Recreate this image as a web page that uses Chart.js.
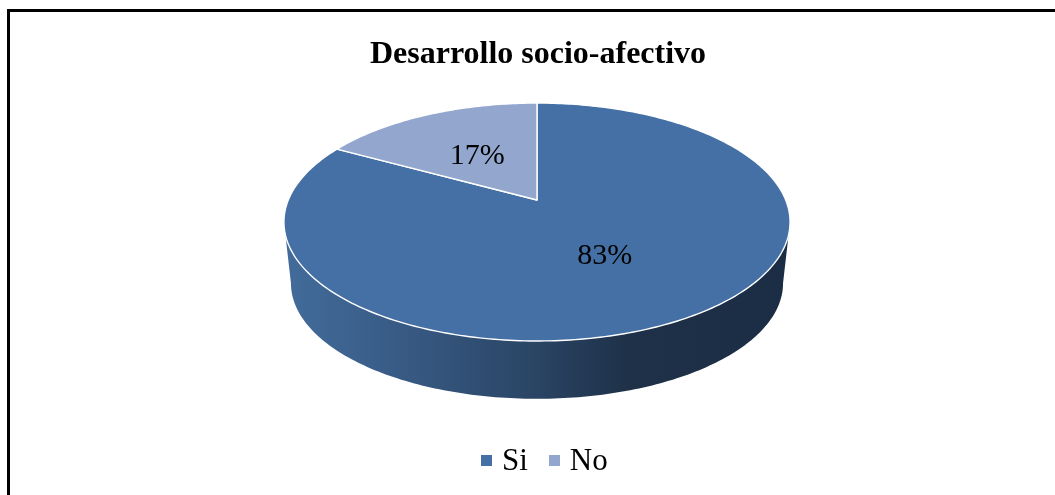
<!DOCTYPE html>
<html>
<head>
<meta charset="utf-8">
<title>Desarrollo socio-afectivo</title>
<script src="https://cdn.jsdelivr.net/npm/chart.js@4/dist/chart.umd.min.js"></script>
<style>
    html, body { margin: 0; padding: 0; background: #fff; overflow: hidden; }
    #wrap { position: relative; width: 1055px; height: 495px; }
    #frame { position: absolute; left: 7px; top: 9px; right: 0; bottom: 0; border-top: 3px solid #000; border-left: 3px solid #000; }
    canvas { position: absolute; left: 0; top: 0; }
    #legend { position: absolute; left: 481px; top: 442px; display: flex; align-items: center; font: 31px "Liberation Serif", "Times New Roman", serif; line-height: 36px; color: #000; }
    #legend .box { width: 11px; height: 11px; margin-right: 10px; }
    #legend .name { margin-right: 21px; }
</style>
</head>
<body>
<div id="wrap">
    <div id="frame"></div>
    <canvas id="chart" width="1055" height="495"></canvas>
    <div id="legend"></div>
</div>
<script>
const categories = ['Si', 'No'];
const values = [83, 17];
const sliceColors = ['#4570a6', '#93a7ce'];

const FONT = '"Liberation Serif", "Times New Roman", serif';

// tilted pie: the disc is seen in perspective, so the centre sits above the middle of the ellipse
const TILT = 0.185;
const TOP_FACE = { x: 537, y: 200, sx: 248.7, sy: 114.9 };
const BOTTOM_FACE = { x: 537, y: 262, sx: 241.8, sy: 111.5 };

function project(face, angle, r = 1) {
    const u = Math.cos(angle) * r;
    const v = Math.sin(angle) * r;
    const d = 1 - TILT * v;
    return [face.x + face.sx * u / d, face.y + face.sy * v / d];
}

function tracePoints(ctx, face, from, to) {
    const steps = Math.max(2, Math.ceil(Math.abs(to - from) * 60));
    for (let i = 0; i <= steps; i++) {
        const p = project(face, from + (to - from) * i / steps);
        ctx.lineTo(p[0], p[1]);
    }
}

const tiltedPie = {
    id: 'tiltedPie',
    beforeDatasetDraw(chart) {
        const ctx = chart.ctx;
        const arcs = chart.getDatasetMeta(0).data;

        // side wall, front half of the rim only
        const leftX = TOP_FACE.x - TOP_FACE.sx / Math.sqrt(1 - TILT * TILT);
        const rightX = TOP_FACE.x + TOP_FACE.sx / Math.sqrt(1 - TILT * TILT);
        const wall = ctx.createLinearGradient(leftX, 0, rightX, 0);
        wall.addColorStop(0, '#436c9b');
        wall.addColorStop(0.2, '#395d88');
        wall.addColorStop(0.5, '#2a4464');
        wall.addColorStop(0.68, '#1e3148');
        wall.addColorStop(1, '#1b2d44');

        const edge = Math.asin(TILT);
        ctx.save();
        ctx.beginPath();
        tracePoints(ctx, TOP_FACE, edge, Math.PI - edge);
        tracePoints(ctx, BOTTOM_FACE, Math.PI - edge, edge);
        ctx.closePath();
        ctx.fillStyle = wall;
        ctx.fill();

        // top face
        arcs.forEach((arc, i) => {
            ctx.beginPath();
            ctx.moveTo(TOP_FACE.x, TOP_FACE.y);
            tracePoints(ctx, TOP_FACE, arc.startAngle, arc.endAngle);
            ctx.closePath();
            ctx.fillStyle = sliceColors[i];
            ctx.fill();
            ctx.strokeStyle = '#fff';
            ctx.lineWidth = 1.4;
            ctx.lineJoin = 'round';
            ctx.stroke();
        });

        // value labels
        ctx.fillStyle = '#000';
        ctx.font = '30px ' + FONT;
        ctx.textAlign = 'center';
        ctx.textBaseline = 'middle';
        arcs.forEach((arc, i) => {
            const p = project(TOP_FACE, (arc.startAngle + arc.endAngle) / 2, 0.5);
            ctx.fillText(values[i] + '%', p[0] - 1, p[1] + 2);
        });
        ctx.restore();
        return false;
    },
};

new Chart(document.getElementById('chart'), {
    type: 'pie',
    data: {
        labels: categories,
        datasets: [{
            data: values,
            backgroundColor: sliceColors,
            borderWidth: 0,
        }],
    },
    plugins: [tiltedPie],
    options: {
        responsive: false,
        animation: false,
        layout: { padding: { left: 21 } },
        plugins: {
            tooltip: { enabled: false },
            legend: { display: false },
            title: {
                display: true,
                text: 'Desarrollo socio-afectivo',
                color: '#000',
                font: { family: FONT, size: 32, weight: 'bold' },
                padding: { top: 36, bottom: 10 },
            },
        },
    },
});

// legend sits closer to its swatches than the built-in one allows
document.getElementById('legend').innerHTML = categories.map((name, i) =>
    `<span class="box" style="background:${sliceColors[i]}"></span><span class="name">${name}</span>`
).join('');
</script>
</body>
</html>
